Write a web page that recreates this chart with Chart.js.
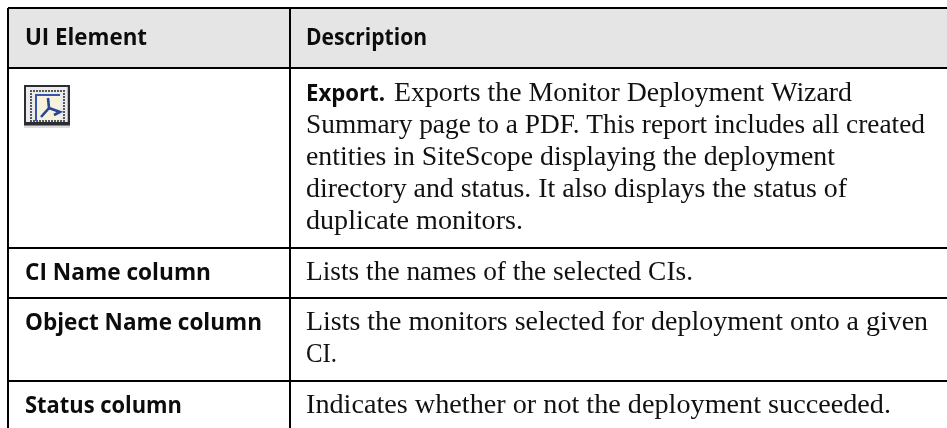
<!DOCTYPE html>
<html>
<head>
<meta charset="utf-8">
<style>html,body{margin:0;padding:0;background:#fff}#c{display:block}</style>
<script src="https://cdn.jsdelivr.net/npm/chart.js@4"></script>
</head>
<body>
<div style="position:relative;width:947px;height:428px"><canvas id="c" width="947" height="428"></canvas></div>
<script>
const columnEdges = [8, 290];
const rowEdges = [8, 68, 247.5, 297.5, 381];
const headerBand = [{x: 8, y: 68}, {x: 947, y: 68}];
const headerLabels = [
  {text: 'UI Element', x: 25, y: 45, end: 147},
  {text: 'Description', x: 306, y: 45, end: 427}
];
const rowLabels = [
  {text: 'CI Name column', x: 25, y: 280, end: 211},
  {text: 'Object Name column', x: 25, y: 330, end: 262},
  {text: 'Status column', x: 25, y: 412.5, end: 182}
];
const boldLead = [{text: 'Export.', x: 306, y: 100.5, end: 385}];
const bodyLines = [
  {text: 'Exports the Monitor Deployment Wizard', x: 394, y: 100.5, end: 852},
  {text: 'Summary page to a PDF. This report includes all created', x: 306, y: 132.5, end: 925},
  {text: 'entities in SiteScope displaying the deployment', x: 306, y: 165, end: 835},
  {text: 'directory and status. It also displays the status of', x: 306, y: 197, end: 847},
  {text: 'duplicate monitors.', x: 306, y: 229, end: 523},
  {text: 'Lists the names of the selected CIs.', x: 306, y: 280, end: 693},
  {text: 'Lists the monitors selected for deployment onto a given', x: 306, y: 329.5, end: 928},
  {text: 'CI.', x: 306, y: 361.5, end: 337},
  {text: 'Indicates whether or not the deployment succeeded.', x: 306, y: 412.5, end: 891}
];
const iconBox = {x: 24, y: 85, w: 46, h: 43};

const SANS = '"Open Sans"';
const SERIF = '"Liberation Serif"';

function fitText(ctx, sx, sy, item, font, color) {
  const x0 = sx.getPixelForValue(item.x), x1 = sx.getPixelForValue(item.end);
  const y = sy.getPixelForValue(item.y);
  ctx.save();
  ctx.font = font;
  ctx.fillStyle = color;
  ctx.textBaseline = 'alphabetic';
  ctx.textAlign = 'left';
  const w = ctx.measureText(item.text).width;
  ctx.translate(x0, y);
  ctx.scale((x1 - x0) / w, 1);
  ctx.fillText(item.text, 0, 0);
  ctx.restore();
}

function drawIcon(ctx, sx, sy) {
  const X = sx.getPixelForValue(iconBox.x), Y = sy.getPixelForValue(iconBox.y);
  const W = iconBox.w, H = iconBox.h;
  ctx.save();
  ctx.filter = 'blur(0.6px)';
  ctx.fillStyle = '#dcdcde'; ctx.fillRect(X, Y, W, H);
  ctx.fillStyle = '#2a2d34';
  ctx.fillRect(X, Y, W, 2);
  ctx.fillRect(X, Y, 2, H - 3);
  ctx.fillRect(X + W - 2.5, Y, 2.5, H - 3);
  ctx.fillRect(X, Y + H - 6, W, 3.5);
  ctx.fillStyle = '#ecebec'; ctx.fillRect(X + 2, Y + 2, W - 4.5, H - 8);
  ctx.fillStyle = '#f6f2dc'; ctx.fillRect(X + 12, Y + 10, 24, 26);
  ctx.fillStyle = '#55565e';
  for (let i = 0; i < 12; i++) { ctx.fillRect(X + 6 + i * 3, Y + 5, 2, 2); }
  for (let i = 0; i < 12; i++) { ctx.fillRect(X + 6 + i * 3, Y + 35, 2, 2); }
  for (let i = 0; i < 11; i++) { ctx.fillRect(X + 6, Y + 5 + i * 3, 2, 2); ctx.fillRect(X + 39, Y + 5 + i * 3, 2, 2); }
  ctx.strokeStyle = '#3a55a8'; ctx.lineWidth = 2;
  ctx.beginPath();
  ctx.moveTo(X + 12, Y + 36); ctx.lineTo(X + 12, Y + 10); ctx.lineTo(X + 36, Y + 10);
  ctx.stroke();
  ctx.strokeStyle = '#2b4596'; ctx.lineWidth = 2.6;
  ctx.beginPath();
  ctx.moveTo(X + 24, Y + 13); ctx.lineTo(X + 25, Y + 23); ctx.lineTo(X + 17, Y + 32);
  ctx.moveTo(X + 25, Y + 23); ctx.lineTo(X + 36, Y + 27); ctx.lineTo(X + 30, Y + 30);
  ctx.stroke();
  ctx.restore();
}

const tableText = {
  id: 'tableText',
  afterDraw(chart) {
    const ctx = chart.ctx, sx = chart.scales.x, sy = chart.scales.y;
    const head = '700 23px ' + SANS;
    headerLabels.forEach(l => fitText(ctx, sx, sy, l, head, '#0c0c0c'));
    rowLabels.forEach(l => fitText(ctx, sx, sy, l, head, '#0c0c0c'));
    boldLead.forEach(l => fitText(ctx, sx, sy, l, head, '#0c0c0c'));
    bodyLines.forEach(l => fitText(ctx, sx, sy, l, '28px ' + SERIF, '#111'));
    drawIcon(ctx, sx, sy);
  }
};

new Chart(document.getElementById('c'), {
  type: 'scatter',
  data: {
    datasets: [{
      data: headerBand,
      showLine: true,
      borderWidth: 0,
      pointRadius: 0,
      fill: 'end',
      backgroundColor: '#e5e5e5'
    }]
  },
  options: {
    responsive: false,
    animation: false,
    events: [],
    layout: {padding: {left: 8, top: 8, right: 0, bottom: 0}},
    plugins: {legend: {display: false}, tooltip: {enabled: false}, title: {display: false}},
    scales: {
      x: {
        type: 'linear', min: 8, max: 947,
        afterBuildTicks: s => { s.ticks = columnEdges.map(v => ({value: v})); },
        ticks: {display: false},
        border: {display: false},
        grid: {color: '#000', lineWidth: 2, drawTicks: false, z: 1}
      },
      y: {
        type: 'linear', min: 8, max: 428, reverse: true,
        afterBuildTicks: s => { s.ticks = rowEdges.map(v => ({value: v})); },
        ticks: {display: false},
        border: {display: false},
        grid: {color: '#000', lineWidth: 2, drawTicks: false, z: 1}
      }
    }
  },
  plugins: [tableText]
});
</script>
</body>
</html>
